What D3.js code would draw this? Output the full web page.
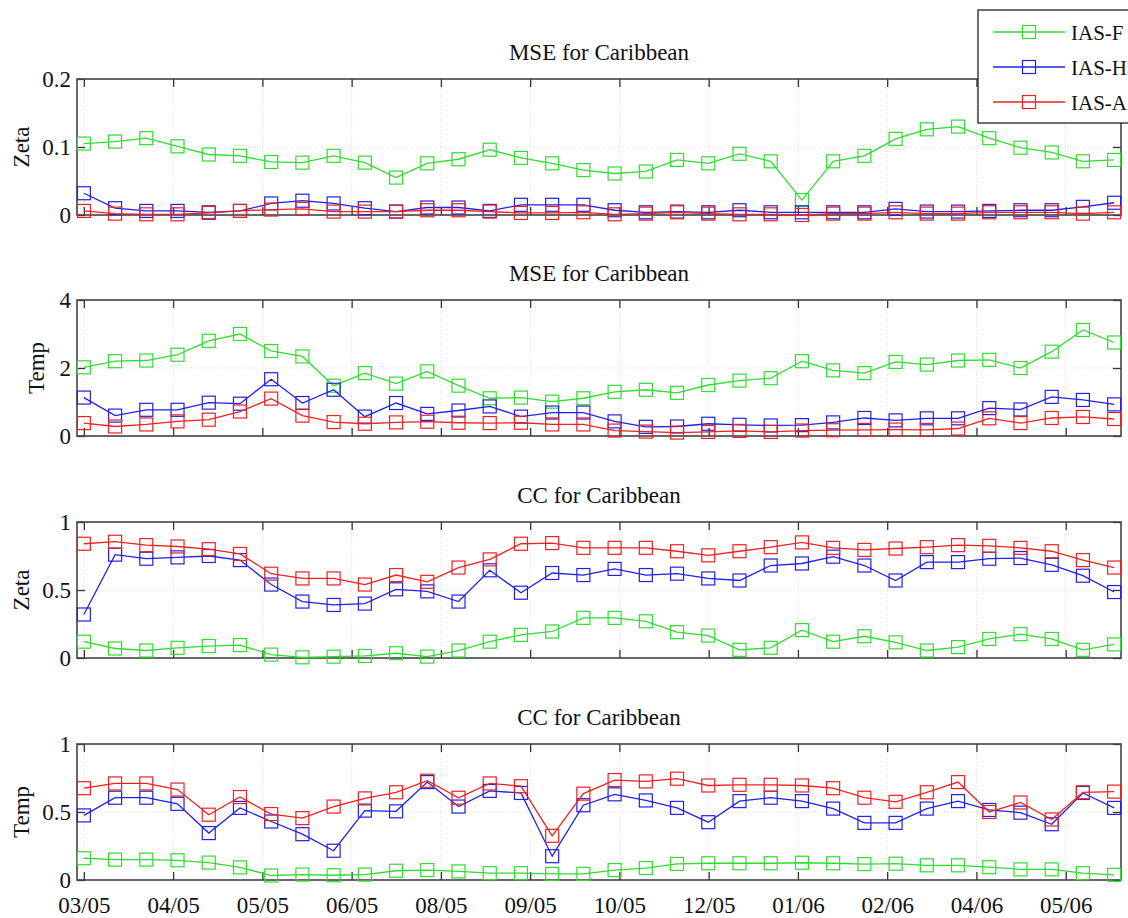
<!DOCTYPE html>
<html>
<head>
<meta charset="utf-8">
<script src="https://cdn.jsdelivr.net/npm/d3@7"></script>
<style>
    html, body { margin: 0; padding: 0; background: #fff; }
    svg text { font-family: "Liberation Serif", "Times New Roman", Times, "DejaVu Serif", serif !important; fill: #111; }
</style>
</head>
<body>
<svg id="chart" width="1128" height="918"></svg>
<script>
// --- Data (34 samples, Mar 2005 - May 2006) ---
const monthLabels = ["03/05", "04/05", "05/05", "06/05", "08/05", "09/05", "10/05", "12/05", "01/06", "02/06", "04/06", "05/06"];
const seriesNames = ["IAS-F", "IAS-H", "IAS-A"];

const mseZetaF = [0.105, 0.108, 0.113, 0.101, 0.089, 0.087, 0.078, 0.077, 0.087, 0.077, 0.055, 0.076, 0.082, 0.096, 0.084, 0.076, 0.066, 0.061, 0.064, 0.081, 0.076, 0.090, 0.079, 0.022, 0.079, 0.087, 0.112, 0.126, 0.130, 0.113, 0.099, 0.092, 0.079, 0.081];
const mseZetaH = [0.032, 0.010, 0.006, 0.006, 0.004, 0.006, 0.017, 0.021, 0.017, 0.010, 0.005, 0.011, 0.011, 0.006, 0.015, 0.015, 0.015, 0.007, 0.004, 0.005, 0.004, 0.007, 0.004, 0.004, 0.004, 0.004, 0.009, 0.005, 0.005, 0.006, 0.007, 0.007, 0.012, 0.018];
const mseZetaA = [0.006, 0.002, 0.001, 0.001, 0.003, 0.006, 0.008, 0.009, 0.005, 0.005, 0.005, 0.007, 0.007, 0.005, 0.003, 0.003, 0.004, 0.001, 0.002, 0.004, 0.002, 0.001, 0.001, 0.000, 0.002, 0.002, 0.004, 0.002, 0.002, 0.004, 0.004, 0.004, 0.002, 0.004];

const mseTempF = [2.02, 2.20, 2.22, 2.39, 2.80, 3.00, 2.50, 2.34, 1.48, 1.85, 1.54, 1.90, 1.48, 1.11, 1.13, 1.01, 1.11, 1.30, 1.36, 1.27, 1.50, 1.63, 1.70, 2.20, 1.93, 1.85, 2.18, 2.10, 2.22, 2.24, 2.00, 2.48, 3.12, 2.75];
const mseTempH = [1.13, 0.60, 0.77, 0.77, 0.98, 0.95, 1.67, 0.97, 1.36, 0.57, 0.97, 0.65, 0.75, 0.87, 0.57, 0.69, 0.69, 0.43, 0.27, 0.28, 0.36, 0.33, 0.31, 0.32, 0.40, 0.53, 0.46, 0.52, 0.52, 0.82, 0.78, 1.15, 1.06, 0.93];
const mseTempA = [0.38, 0.28, 0.34, 0.43, 0.48, 0.72, 1.10, 0.60, 0.41, 0.36, 0.40, 0.42, 0.39, 0.38, 0.39, 0.34, 0.34, 0.16, 0.13, 0.10, 0.12, 0.15, 0.12, 0.16, 0.17, 0.18, 0.19, 0.18, 0.22, 0.52, 0.38, 0.53, 0.56, 0.50];

const ccZetaF = [0.120, 0.070, 0.055, 0.075, 0.088, 0.095, 0.025, 0.005, 0.010, 0.015, 0.035, 0.010, 0.055, 0.120, 0.170, 0.195, 0.295, 0.295, 0.270, 0.190, 0.165, 0.060, 0.075, 0.205, 0.120, 0.160, 0.115, 0.055, 0.080, 0.140, 0.175, 0.140, 0.060, 0.100];
const ccZetaH = [0.320, 0.760, 0.730, 0.740, 0.750, 0.720, 0.540, 0.415, 0.390, 0.400, 0.505, 0.490, 0.415, 0.645, 0.480, 0.625, 0.610, 0.655, 0.610, 0.620, 0.585, 0.570, 0.680, 0.695, 0.745, 0.680, 0.570, 0.705, 0.705, 0.730, 0.735, 0.685, 0.605, 0.485];
const ccZetaA = [0.840, 0.855, 0.830, 0.820, 0.800, 0.765, 0.620, 0.585, 0.585, 0.540, 0.610, 0.560, 0.665, 0.725, 0.840, 0.845, 0.810, 0.810, 0.810, 0.785, 0.755, 0.785, 0.815, 0.850, 0.810, 0.795, 0.805, 0.815, 0.830, 0.825, 0.810, 0.785, 0.720, 0.665];

const ccTempF = [0.160, 0.150, 0.150, 0.145, 0.128, 0.093, 0.033, 0.040, 0.035, 0.040, 0.068, 0.073, 0.063, 0.050, 0.050, 0.045, 0.045, 0.073, 0.088, 0.118, 0.123, 0.123, 0.123, 0.127, 0.123, 0.117, 0.120, 0.108, 0.108, 0.094, 0.078, 0.078, 0.050, 0.038];
const ccTempH = [0.475, 0.605, 0.605, 0.560, 0.345, 0.530, 0.430, 0.337, 0.215, 0.510, 0.505, 0.720, 0.540, 0.655, 0.640, 0.175, 0.550, 0.630, 0.585, 0.530, 0.425, 0.580, 0.605, 0.580, 0.525, 0.420, 0.420, 0.525, 0.580, 0.515, 0.495, 0.410, 0.640, 0.530];
const ccTempA = [0.675, 0.710, 0.710, 0.665, 0.480, 0.610, 0.485, 0.455, 0.540, 0.600, 0.645, 0.730, 0.605, 0.710, 0.690, 0.325, 0.635, 0.735, 0.725, 0.745, 0.695, 0.700, 0.700, 0.695, 0.675, 0.605, 0.575, 0.645, 0.720, 0.500, 0.570, 0.445, 0.645, 0.650];

const panelTitles = ["MSE for Caribbean", "MSE for Caribbean", "CC for Caribbean", "CC for Caribbean"];
const panelYLabels = ["Zeta", "Temp", "Zeta", "Temp"];
const panelYTicks = [[0, 0.1, 0.2], [0, 2, 4], [0, 0.5, 1], [0, 0.5, 1]];

document.addEventListener("DOMContentLoaded", () => {
    const svg = d3.select("#chart");
    const serif = '"Liberation Serif", "Times New Roman", Times, serif';
    const colors = ["#2fdc2f", "#2020e8", "#ee2020"];

    const panels = [
        [mseZetaF, mseZetaH, mseZetaA],
        [mseTempF, mseTempH, mseTempA],
        [ccZetaF, ccZetaH, ccZetaA],
        [ccTempF, ccTempH, ccTempA],
    ];

    const left = 77, right = 1121;
    const panelTop = [79, 300, 522, 744];
    const panelH = 136;
    const tickStep = 2.859; // month ticks, in sample units
    const n = mseZetaF.length;

    const x = d3.scaleLinear()
        .domain([-0.22, n - 1 + 0.22])
        .range([left, right]);
    const tickPos = monthLabels.map((d, i) => i * tickStep);

    panels.forEach((series, p) => {
        const top = panelTop[p];
        const ticks = panelYTicks[p];
        const y = d3.scaleLinear()
            .domain([0, ticks[ticks.length - 1]])
            .range([top + panelH, top]);

        const g = svg.append("g").attr("font-family", serif);

        // --- grid (dotted) ---
        g.selectAll(".vgrid").data(tickPos).enter().append("line")
            .attr("x1", (d) => x(d)).attr("x2", (d) => x(d))
            .attr("y1", top).attr("y2", top + panelH)
            .attr("stroke", "#dcdcdc").attr("stroke-dasharray", "1,2");
        g.selectAll(".hgrid").data(ticks).enter().append("line")
            .attr("x1", left).attr("x2", right)
            .attr("y1", (d) => y(d)).attr("y2", (d) => y(d))
            .attr("stroke", "#dcdcdc").attr("stroke-dasharray", "1,2");

        // --- axes: ticks inside on all four sides ---
        g.append("g")
            .attr("transform", `translate(0,${top + panelH})`)
            .call(d3.axisBottom(x).tickValues(tickPos)
                .tickFormat((d, i) => (p === 3 ? monthLabels[i] : ""))
                .tickSizeInner(-8).tickSizeOuter(0).tickPadding(17))
            .call((a) => a.select(".domain").remove());
        g.append("g")
            .attr("transform", `translate(0,${top})`)
            .call(d3.axisTop(x).tickValues(tickPos).tickFormat("")
                .tickSizeInner(-8).tickSizeOuter(0))
            .call((a) => a.select(".domain").remove());
        g.append("g")
            .attr("transform", `translate(${left},0)`)
            .call(d3.axisLeft(y).tickValues(ticks).tickFormat(d3.format(""))
                .tickSizeInner(-8).tickSizeOuter(0).tickPadding(6))
            .call((a) => a.select(".domain").remove());
        g.append("g")
            .attr("transform", `translate(${right},0)`)
            .call(d3.axisRight(y).tickValues(ticks).tickFormat("")
                .tickSizeInner(-8).tickSizeOuter(0))
            .call((a) => a.select(".domain").remove());

        g.selectAll("g").attr("font-family", serif);
        g.selectAll(".tick line").attr("stroke", "#333").attr("stroke-width", 1.3);
        g.selectAll(".tick text")
            .attr("font-size", 23)
            .attr("fill", "#111");

        // frame
        g.append("rect")
            .attr("x", left).attr("y", top)
            .attr("width", right - left).attr("height", panelH)
            .attr("fill", "none").attr("stroke", "#444").attr("stroke-width", 1.6);

        // title
        g.append("text")
            .attr("x", (left + right) / 2)
            .attr("y", top - 19)
            .attr("text-anchor", "middle")
            .attr("font-size", 23)
            .text(panelTitles[p]);

        // y label
        const labelX = p === 1 ? 36 : 21;
        g.append("text")
            .attr("transform", `translate(${labelX},${top + panelH / 2}) rotate(-90)`)
            .attr("text-anchor", "middle")
            .attr("dy", "0.35em")
            .attr("font-size", 23)
            .text(panelYLabels[p]);

        // --- series lines + square markers ---
        const line = d3.line().x((d, i) => x(i)).y((d) => y(d));
        series.forEach((vals, s) => {
            g.append("path")
                .datum(vals)
                .attr("d", line)
                .attr("fill", "none")
                .attr("stroke", colors[s])
                .attr("stroke-width", 1.3);
            g.selectAll(".m" + s)
                .data(vals)
                .enter()
                .append("rect")
                .attr("x", (d, i) => x(i) - 6.5)
                .attr("y", (d) => y(d) - 6.5)
                .attr("width", 13)
                .attr("height", 13)
                .attr("fill", "none")
                .attr("stroke", colors[s])
                .attr("stroke-width", 1.2);
        });
    });

    // --- Legend (top right, box runs off the page) ---
    const legend = svg.append("g").attr("font-family", serif);
    legend.append("rect")
        .attr("x", 978).attr("y", 10)
        .attr("width", 170).attr("height", 113)
        .attr("fill", "#fff").attr("stroke", "#222").attr("stroke-width", 1.3);
    seriesNames.forEach((name, s) => {
        const ly = 32 + s * 35;
        legend.append("line")
            .attr("x1", 993).attr("x2", 1065)
            .attr("y1", ly).attr("y2", ly)
            .attr("stroke", colors[s]).attr("stroke-width", 1.3);
        legend.append("rect")
            .attr("x", 1029 - 6.5).attr("y", ly - 6.5)
            .attr("width", 13).attr("height", 13)
            .attr("fill", "none").attr("stroke", colors[s]).attr("stroke-width", 1.2);
        legend.append("text")
            .attr("x", 1071).attr("y", ly + 8)
            .attr("font-size", 21)
            .text(name);
    });
});
</script>
</body>
</html>
